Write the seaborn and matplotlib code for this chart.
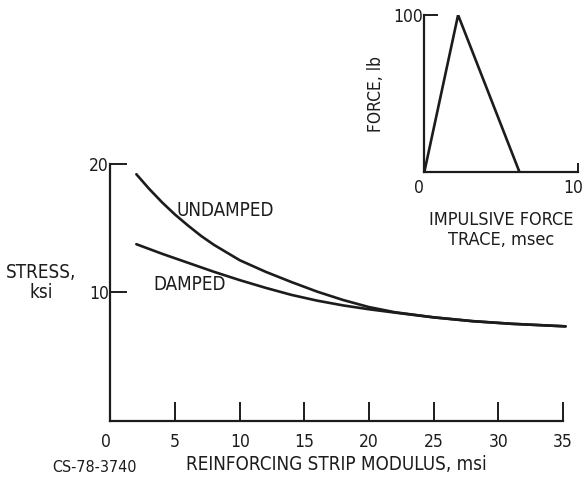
import matplotlib
matplotlib.use("Agg")
import matplotlib.pyplot as plt
import matplotlib.transforms as mtransforms
import pandas as pd
import seaborn as sns

# Peak stress versus reinforcing strip modulus
modulus_undamped = [2.0, 3, 4, 5, 6, 7, 8, 10, 12, 14, 16, 18, 20, 22, 25, 28, 31, 35.2]
stress_undamped = [19.2, 18.05, 17.0, 16.05, 15.2, 14.4, 13.7, 12.5, 11.6, 10.8, 10.05, 9.4, 8.85, 8.45, 8.05, 7.75, 7.55, 7.35]
modulus_damped = [2.0, 4, 6, 8, 10, 12, 14, 16, 18, 20, 22, 25, 28, 31, 35.2]
stress_damped = [13.75, 13.0, 12.3, 11.6, 10.95, 10.35, 9.8, 9.35, 8.98, 8.68, 8.42, 8.05, 7.76, 7.55, 7.35]

# Impulsive force trace (triangular pulse)
trace_time = [0, 2.2, 6.2]
trace_force = [0, 100, 0]

x_ticks = [0, 5, 10, 15, 20, 25, 30, 35]
y_ticks = [10, 20]
inset_x_ticks = [0, 10]
inset_y_ticks = [100]

sns.set_theme(style="white")
plt.rcParams["font.family"] = ["DejaVu Sans"]
plt.rcParams["font.stretch"] = "condensed"
INK = "#1c1c1c"
plt.rcParams["text.color"] = INK
plt.rcParams["axes.labelcolor"] = INK
plt.rcParams["xtick.color"] = INK
plt.rcParams["ytick.color"] = INK

df = pd.concat([
    pd.DataFrame({"modulus": modulus_undamped, "stress": stress_undamped, "case": "UNDAMPED"}),
    pd.DataFrame({"modulus": modulus_damped, "stress": stress_damped, "case": "DAMPED"}),
])

fig = plt.figure(figsize=(5.84, 4.79), dpi=100)

# Main plot
ax = fig.add_axes([0.1892, 0.1217, 0.7748, 0.536])
sns.lineplot(data=df, x="modulus", y="stress", units="case", estimator=None,
             color=INK, linewidth=1.9, sort=False, ax=ax, legend=False)
for line in ax.lines:
    line.set_clip_on(False)
    line.set_solid_joinstyle("round")
ax.set_xlim(0, 35)
ax.set_ylim(0, 20)
ax.set_xticks(x_ticks)
ax.set_yticks(y_ticks)
ax.set_xticklabels([str(v) for v in x_ticks], fontsize=12.5)
ax.set_yticklabels([str(v) for v in y_ticks], fontsize=12.5)
ax.tick_params(axis="x", bottom=True, direction="in", length=13.5, width=1.4, pad=9)
ax.tick_params(axis="y", left=True, direction="in", length=12, width=1.4, pad=1)
ax.xaxis.get_ticklabels()[0].set_horizontalalignment("right")
for side in ("top", "right"):
    ax.spines[side].set_visible(False)
for side in ("left", "bottom"):
    ax.spines[side].set_color(INK)
    ax.spines[side].set_linewidth(1.6)
ax.set_xlabel("REINFORCING STRIP MODULUS, msi", fontsize=13.5, labelpad=3)
ax.set_ylabel("")
ax.patch.set_alpha(0)

fig.text(0.070, 0.410, "STRESS,\nksi", fontsize=13.5, ha="center", va="center",
         linespacing=1.1)
ax.text(8.9, 16.4, "UNDAMPED", fontsize=13.5, ha="center", va="center")
ax.text(6.1, 10.6, "DAMPED", fontsize=13.5, ha="center", va="center")
fig.text(0.161, 0.025, "CS-78-3740", fontsize=11.5, ha="center", va="center")

# Inset: force trace
ins = fig.add_axes([0.7265, 0.6403, 0.2632, 0.3284])
sns.lineplot(x=trace_time, y=trace_force, color=INK, linewidth=1.9,
             sort=False, ax=ins, legend=False)
ins.lines[0].set_solid_joinstyle("miter")
ins.set_xlim(0, 10)
ins.set_ylim(0, 100)
ins.set_xticks(inset_x_ticks)
ins.set_yticks(inset_y_ticks)
ins.set_xticklabels([str(v) for v in inset_x_ticks], fontsize=12.5)
ins.set_yticklabels([str(v) for v in inset_y_ticks], fontsize=12.5)
ins.tick_params(axis="x", bottom=True, direction="in", length=6.5, width=1.4, pad=5)
ins.tick_params(axis="y", left=True, direction="in", length=10, width=1.4, pad=1)
xl = ins.xaxis.get_ticklabels()
xl[0].set_horizontalalignment("right")
xl[1].set_horizontalalignment("right")
xl[1].set_transform(xl[1].get_transform()
                    + mtransforms.ScaledTranslation(0.05, 0, fig.dpi_scale_trans))
for side in ("top", "right"):
    ins.spines[side].set_visible(False)
for side in ("left", "bottom"):
    ins.spines[side].set_color(INK)
    ins.spines[side].set_linewidth(1.6)
ins.set_xlabel("IMPULSIVE FORCE\nTRACE, msec", fontsize=13, labelpad=10,
               linespacing=1.15)
ins.set_ylabel("FORCE, lb", fontsize=12.5, labelpad=6)
ins.patch.set_alpha(0)

fig.savefig("out.png", dpi=100, facecolor="white")
